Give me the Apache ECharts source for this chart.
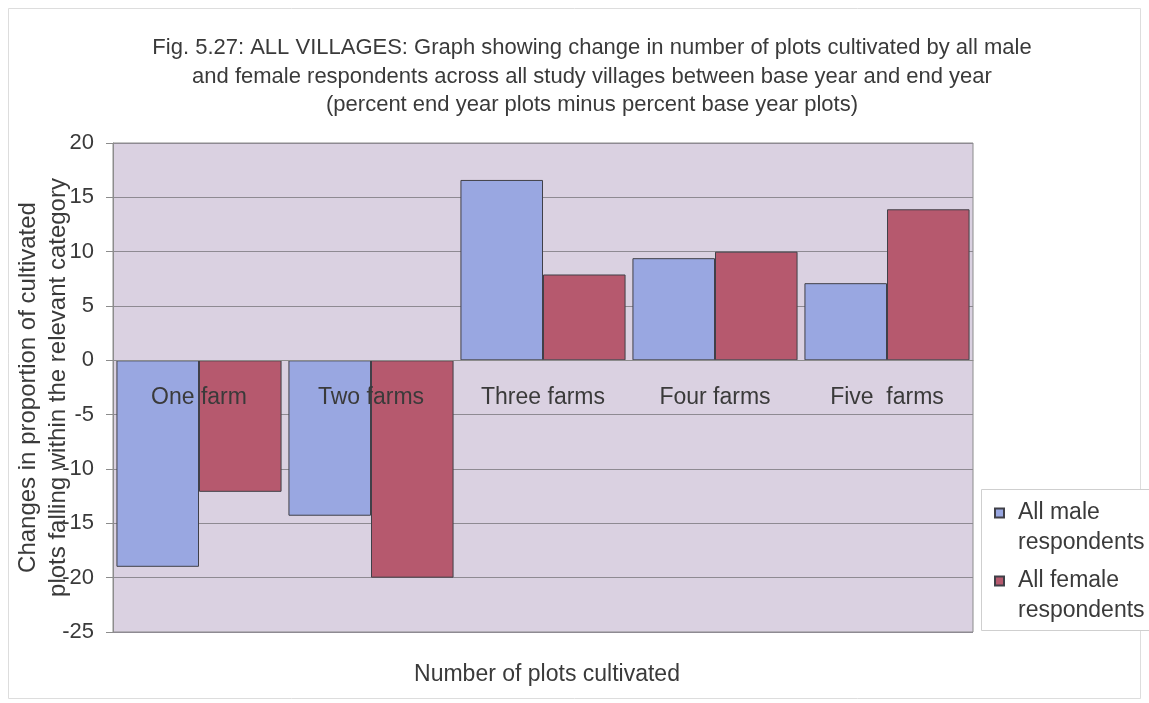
<!DOCTYPE html>
<html>
<head>
<meta charset="utf-8">
<script src="https://cdn.jsdelivr.net/npm/echarts@6/dist/echarts.min.js"></script>
<style>html,body{margin:0;padding:0;background:#fff;}#c{width:1149px;height:703px;}</style>
</head>
<body>
<div id="c"></div>
<script>
const categories = ['One farm', 'Two farms', 'Three farms', 'Four farms', 'Five  farms'];
const maleValues = [-19.0, -14.3, 16.6, 9.4, 7.1];
const femaleValues = [-12.1, -20.0, 7.9, 10.0, 13.9];
const seriesNames = ['All male respondents', 'All female respondents'];
const legendLabels = ['\nAll male\nrespondents', '\nAll female\nrespondents'];

const FONT = '"Liberation Sans", Arial, sans-serif';
const TXT = '#3a3a3a';
const chart = echarts.init(document.getElementById('c'), null, {renderer: 'canvas'});
chart.setOption({
  animation: false,
  backgroundColor: '#ffffff',
  textStyle: {fontFamily: FONT},
  title: [{
    text: 'Fig. 5.27: ALL VILLAGES: Graph showing change in number of plots cultivated by all male\nand female respondents across all study villages between base year and end year\n(percent end year plots minus percent base year plots)',
    left: 587, top: 29, textAlign: 'center',
    textStyle: {fontFamily: FONT, fontSize: 22, fontWeight: 'normal', color: TXT, lineHeight: 28.5}
  }, {
    text: 'Number of plots cultivated',
    left: 542, top: 658, textAlign: 'center',
    textStyle: {fontFamily: FONT, fontSize: 23, fontWeight: 'normal', color: TXT}
  }],
  graphic: [{
    type: 'rect', shape: {x: 8.5, y: 8.5, width: 1132, height: 690},
    style: {fill: 'none', stroke: '#dddddd', lineWidth: 1}, silent: true, z: 0
  }, {
    type: 'rect', shape: {x: 981.5, y: 489.5, width: 180, height: 141},
    style: {fill: '#ffffff', stroke: '#cfcfcf', lineWidth: 1}, silent: true, z: 1
  }],
  legend: {
    orient: 'vertical', left: 994, top: 468, padding: 0, itemGap: -22,
    itemWidth: 9, itemHeight: 9, icon: 'rect', z: 5,
    data: seriesNames,
    formatter: function (n) { return legendLabels[seriesNames.indexOf(n)]; },
    textStyle: {fontFamily: FONT, fontSize: 23, color: TXT, lineHeight: 30, padding: [0, 0, 0, 9]}
  },
  grid: {left: 113, right: 176, top: 143, bottom: 71, outerBoundsMode: 'none', containLabel: false,
    show: true, backgroundColor: '#dad1e1', borderColor: '#8c8c8c', borderWidth: 1},
  xAxis: {
    type: 'category', data: categories, offset: -272.2, z: 10,
    axisLine: {show: true, onZero: false, lineStyle: {color: '#8c8c8c'}},
    axisTick: {show: false},
    axisLabel: {fontFamily: FONT, fontSize: 23, color: TXT, margin: 26, interval: 0}
  },
  yAxis: {
    type: 'value', min: -25, max: 20, interval: 5,
    name: 'Changes in proportion of cultivated\nplots falling within the relevant category',
    nameLocation: 'middle', nameGap: 40, nameRotate: 90, nameMoveOverlap: false,
    nameTextStyle: {fontFamily: FONT, fontSize: 24, color: TXT, lineHeight: 30},
    axisLine: {show: true, lineStyle: {color: '#8c8c8c'}},
    axisTick: {show: true, length: 7, lineStyle: {color: '#8c8c8c'}},
    axisLabel: {fontFamily: FONT, fontSize: 22, color: TXT, margin: 19},
    splitLine: {show: true, lineStyle: {color: '#8e8a92', width: 1}}
  },
  series: [{
    name: seriesNames[0], type: 'bar', data: maleValues,
    barGap: '0%', barCategoryGap: '4%',
    itemStyle: {color: '#99a7e1', borderColor: '#404048', borderWidth: 1}
  }, {
    name: seriesNames[1], type: 'bar', data: femaleValues,
    itemStyle: {color: '#b6596e', borderColor: '#404048', borderWidth: 1}
  }]
});
</script>
</body>
</html>
